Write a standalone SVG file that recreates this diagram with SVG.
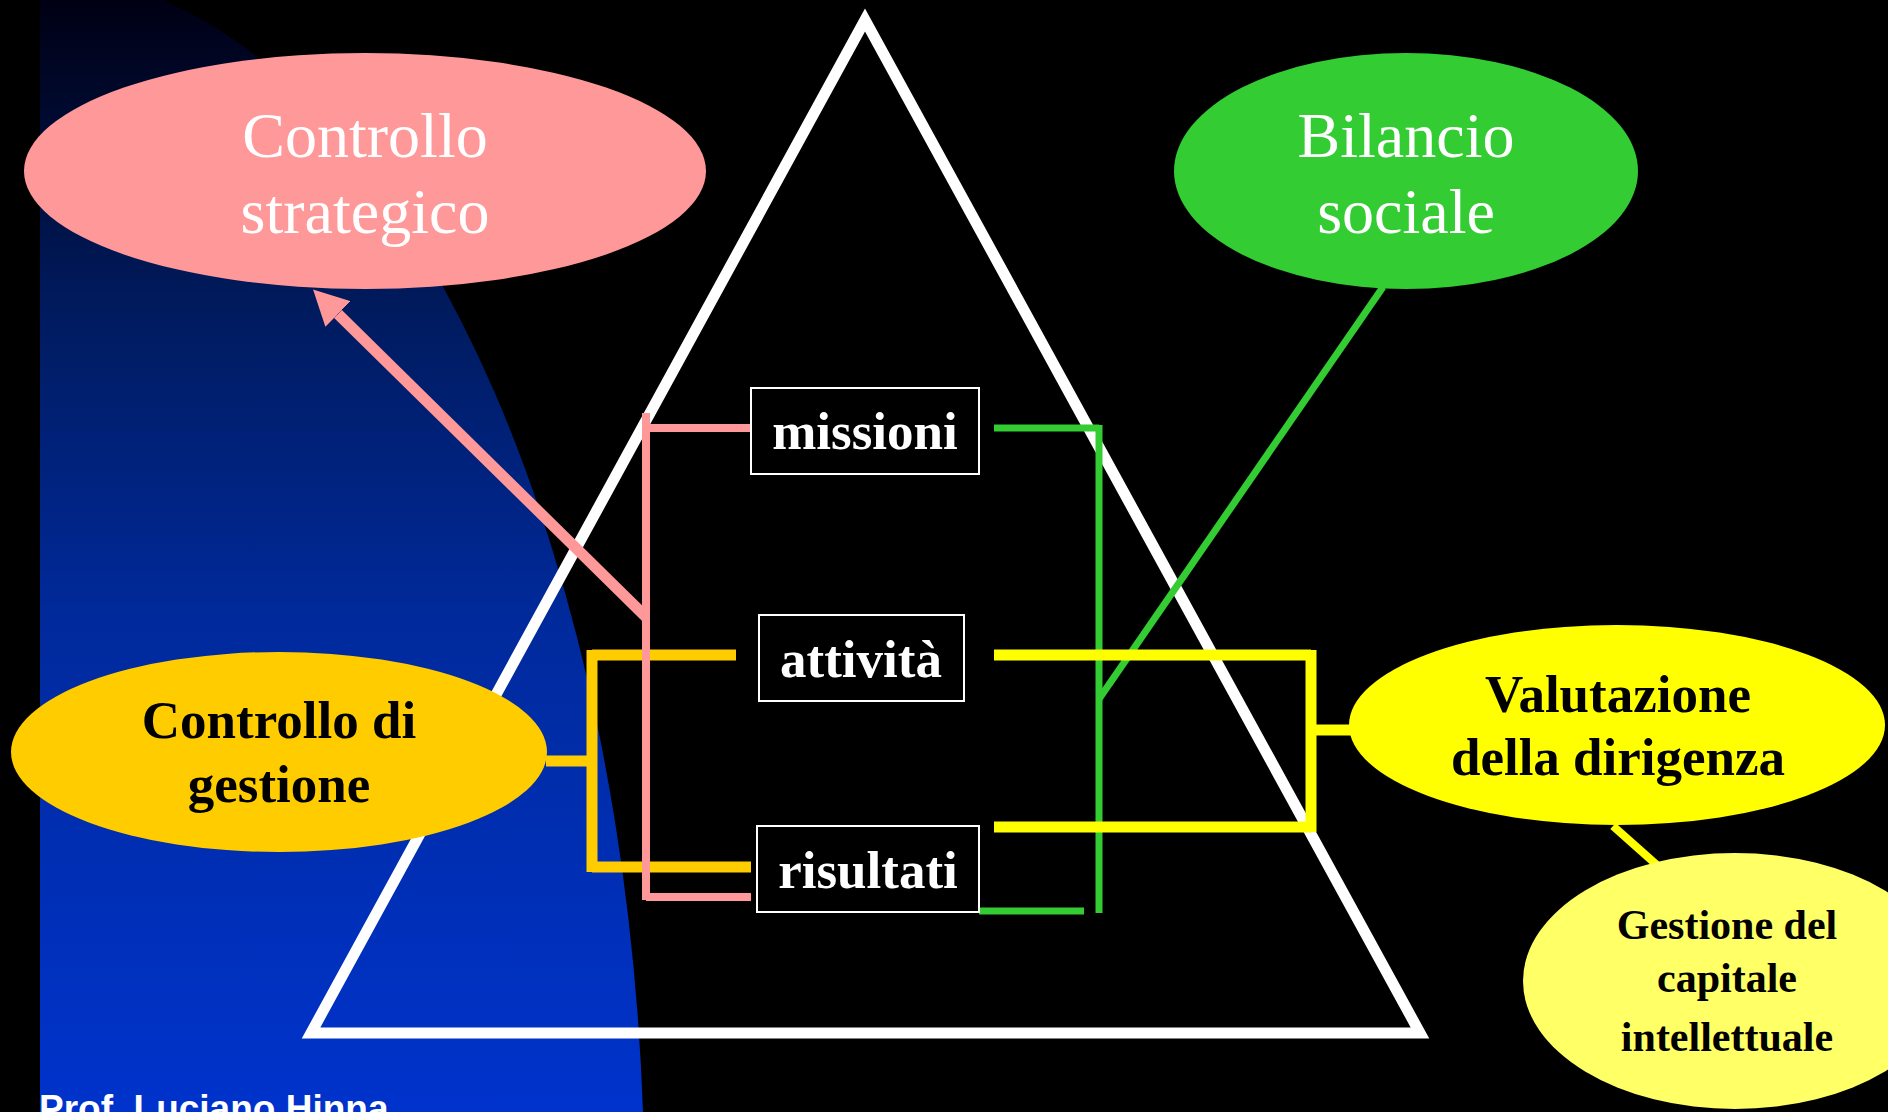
<svg xmlns="http://www.w3.org/2000/svg" width="1888" height="1112" viewBox="0 0 1888 1112">
  <defs>
    <linearGradient id="blueGrad" gradientUnits="userSpaceOnUse" x1="0" y1="0" x2="0" y2="1112">
      <stop offset="0" stop-color="#000014"/>
      <stop offset="0.27" stop-color="#001a5c"/>
      <stop offset="0.56" stop-color="#002a9c"/>
      <stop offset="1" stop-color="#0033cc"/>
    </linearGradient>
    <marker id="pinkHead" viewBox="0 -18 35 36" markerWidth="35" markerHeight="36" refX="0" refY="0" orient="auto" markerUnits="userSpaceOnUse">
      <path d="M0,-18 L35,0 L0,18 Z" fill="#ff9999"/>
    </marker>
  </defs>
  <style>
    .serif { font-family: "Liberation Serif", "Times New Roman", serif; }
    .big { font-size: 64px; fill: #ffffff; }
    .bold { font-weight: bold; font-size: 53px; }
    .dark { fill: #000000; }
    .light { fill: #ffffff; }
    .small { font-weight: bold; font-size: 42px; fill: #000000; }
    .box { fill: #000000; stroke: #ffffff; stroke-width: 2; }
    .conn { fill: none; stroke-linecap: butt; }
    .pink { stroke: #ff9999; }
    .gold { stroke: #ffcc00; stroke-width: 11; }
    .yel { stroke: #ffff00; stroke-width: 11; }
    .green { stroke: #33cc33; stroke-width: 7; }
  </style>

  <rect x="0" y="0" width="1888" height="1112" fill="#000000"/>
  <path id="blue-panel" d="M40,0 H162 A605 1225 0 0 1 643,1112 H40 Z" fill="url(#blueGrad)"/>

  <polygon id="triangle" points="865,20 311,1033 1420,1033" fill="none" stroke="#ffffff" stroke-width="11" stroke-linejoin="miter" stroke-miterlimit="10"/>

  <g id="connectors">
    <!-- green bracket and link to Bilancio sociale -->
    <polyline class="conn green" points="994,428 1099,428"/>
    <line class="conn green" x1="1099" y1="425" x2="1099" y2="913"/>
    <polyline class="conn green" points="979,911 1084,911"/>
    <line class="conn green" x1="1383" y1="287" x2="1099" y2="699"/>
    <!-- yellow bracket to Valutazione -->
    <line class="conn yel" x1="994" y1="655" x2="1311" y2="655"/>
    <line class="conn yel" x1="1311" y1="650" x2="1311" y2="832"/>
    <line class="conn yel" x1="994" y1="827" x2="1311" y2="827"/>
    <line class="conn yel" x1="1311" y1="730" x2="1352" y2="730"/>
    <line class="conn" stroke="#ffff00" stroke-width="8" x1="1613" y1="826" x2="1658" y2="866"/>
    <!-- gold bracket to Controllo di gestione -->
    <line class="conn gold" x1="546" y1="761" x2="592" y2="761"/>
    <line class="conn gold" x1="592" y1="650" x2="592" y2="872"/>
    <line class="conn gold" x1="592" y1="655" x2="736" y2="655"/>
    <line class="conn gold" x1="592" y1="867" x2="751" y2="867"/>
    <!-- pink bracket and arrow to Controllo strategico -->
    <line class="conn pink" stroke-width="8" x1="646" y1="413" x2="646" y2="900"/>
    <line class="conn pink" stroke-width="8" x1="646" y1="428" x2="751" y2="428"/>
    <line class="conn pink" stroke-width="8" x1="646" y1="897" x2="751" y2="897"/>
    <line class="conn pink" stroke-width="11" x1="646" y1="617" x2="338" y2="314" marker-end="url(#pinkHead)"/>
  </g>

  <g id="node-missioni">
    <rect class="box" x="751" y="388" width="228" height="86"/>
    <text class="serif bold light" x="865" y="449" text-anchor="middle">missioni</text>
  </g>
  <g id="node-attivita">
    <rect class="box" x="759" y="615" width="205" height="86"/>
    <text class="serif bold light" x="861" y="677" text-anchor="middle">attività</text>
  </g>
  <g id="node-risultati">
    <rect class="box" x="757" y="826" width="222" height="86"/>
    <text class="serif bold light" x="868" y="888" text-anchor="middle">risultati</text>
  </g>

  <g id="node-controllo-strategico">
    <ellipse cx="365" cy="171" rx="341" ry="118" fill="#ff9999"/>
    <text class="serif big" x="365" y="157" text-anchor="middle">Controllo</text>
    <text class="serif big" x="365" y="233" text-anchor="middle">strategico</text>
  </g>
  <g id="node-bilancio-sociale">
    <ellipse cx="1406" cy="171" rx="232" ry="118" fill="#33cc33"/>
    <text class="serif big" x="1406" y="157" text-anchor="middle">Bilancio</text>
    <text class="serif big" x="1406" y="233" text-anchor="middle">sociale</text>
  </g>
  <g id="node-controllo-gestione">
    <ellipse cx="279" cy="752" rx="268" ry="100" fill="#ffcc00"/>
    <text class="serif bold dark" x="279" y="738" text-anchor="middle">Controllo di</text>
    <text class="serif bold dark" x="279" y="802" text-anchor="middle">gestione</text>
  </g>
  <g id="node-valutazione">
    <ellipse cx="1617" cy="725" rx="268" ry="100" fill="#ffff00"/>
    <text class="serif bold dark" x="1618" y="712" text-anchor="middle">Valutazione</text>
    <text class="serif bold dark" x="1618" y="775" text-anchor="middle">della dirigenza</text>
  </g>
  <g id="node-gestione-capitale">
    <ellipse cx="1735" cy="981" rx="212" ry="128" fill="#ffff66"/>
    <text class="serif small" x="1727" y="939" text-anchor="middle">Gestione del</text>
    <text class="serif small" x="1727" y="992" text-anchor="middle">capitale</text>
    <text class="serif small" x="1727" y="1051" text-anchor="middle">intellettuale</text>
  </g>

  <text x="39" y="1121" font-family="'Liberation Sans', Arial, sans-serif" font-weight="bold" font-size="37" fill="#ffffff">Prof. Luciano Hinna</text>
</svg>
